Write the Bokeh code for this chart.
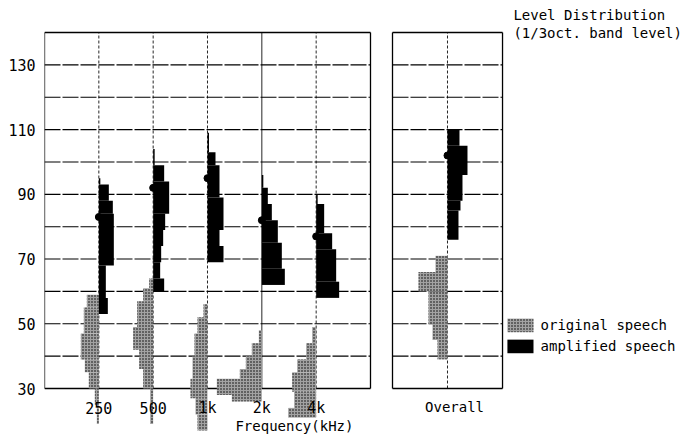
from bokeh.plotting import figure
from bokeh.models import Range1d, FixedTicker
from bokeh.core.properties import value
from bokeh.embed import file_html
from bokeh.resources import INLINE

# ---------------- data ----------------
band_labels = ["250", "500", "1k", "2k", "4k"]
band_pos = [0, 1, 2, 3, 4]
y_tick_values = [30, 50, 70, 90, 110, 130]
grid_levels = [40, 50, 60, 70, 80, 90, 100, 110, 120, 130]

# level classes: (low dB, high dB, relative occurrence)
amp_250 = [(93, 95, 1.5), (88, 93, 10), (84, 88, 14), (68, 84, 15), (58, 68, 7), (53, 58, 9)]
amp_500 = [(99, 104, 1.5), (94, 99, 11), (84, 94, 16), (79, 84, 12), (74, 79, 10),
           (69, 74, 8), (64, 69, 7), (60, 64, 11)]
amp_1k = [(103, 109, 1.5), (99, 103, 8), (89, 99, 12), (79, 89, 16), (74, 79, 12), (69, 74, 16)]
amp_2k = [(92, 96, 1.5), (87, 92, 6), (82, 87, 10), (75, 82, 16), (67, 75, 20), (62, 67, 23)]
amp_4k = [(87, 90, 1.5), (78, 87, 8), (73, 78, 16), (63, 73, 20), (58, 63, 23)]
amp_overall = [(105, 110, 12), (96, 105, 20), (88, 96, 15), (85, 88, 13), (76, 85, 11)]

orig_250 = [(55, 59, 12), (47, 55, 15), (39, 47, 18), (35, 39, 14), (30, 35, 10), (25, 30, 4), (19, 25, 2)]
orig_500 = [(61, 64, 4), (57, 61, 10), (49, 57, 16), (42, 49, 20), (36, 42, 14), (30, 36, 10),
            (24, 30, 3), (19, 24, 3)]
orig_1k = [(52, 56, 4), (47, 52, 10), (40, 47, 13), (33, 40, 15), (27, 33, 17), (22, 27, 12), (17, 22, 10)]
orig_2k = [(44, 48, 3), (40, 44, 10), (36, 40, 16), (33, 36, 22), (28, 33, 45), (26, 28, 30)]
orig_4k = [(44, 49, 4), (39, 44, 10), (35, 39, 19), (29, 35, 24), (24, 29, 22), (21, 24, 28)]
orig_overall = [(66, 71, 12), (60, 66, 29), (50, 60, 19), (45, 50, 15), (39, 45, 10)]

amp_mean = [83, 92, 95, 82, 77]
amp_mean_overall = 102

legend_labels = ["original speech", "amplified speech"]
title_lines = ["Level Distribution", "(1/3oct. band level)"]
x_title = "Frequency(kHz)"
overall_label = "Overall"

# ---------------- layout / style constants ----------------
PX = 54.333                 # pixels per x unit
OCC = 1.0 / PX              # x units per occurrence unit
MAIN_L, MAIN_R = -1.0, 5.0
OV_C = 6.417
OV_L, OV_R = 5.405, 7.43
Y_BOT, Y_TOP = 30, 140
FONT = value("DejaVu Sans Mono")
ORIG_FILL = "#a2a2a2"

p = figure(width=685, height=435,
           x_range=Range1d(-1.0, -1.0 + 641 / PX),
           y_range=Range1d(15.48, 149.89),
           output_backend="svg", toolbar_location=None,
           x_axis_location=None,
           min_border_left=44, min_border_right=0,
           min_border_top=0, min_border_bottom=0)
p.outline_line_color = None
p.grid.visible = False
p.background_fill_color = "white"
p.border_fill_color = "white"

ax = p.yaxis[0]
ax.ticker = FixedTicker(ticks=y_tick_values)
ax.axis_line_color = None
ax.major_tick_line_color = None
ax.minor_tick_line_color = None
ax.major_label_standoff = 3
ax.major_label_text_font = "DejaVu Sans Mono"
ax.major_label_text_font_size = "15px"
ax.major_label_text_color = "black"

# ---------------- grid & panel frames ----------------
for (l, r) in [(MAIN_L, MAIN_R), (OV_L, OV_R)]:
    p.segment(x0=[l] * len(grid_levels), x1=[r] * len(grid_levels),
              y0=grid_levels, y1=grid_levels,
              line_color="black", line_width=1.1, line_dash="16 2")
    p.segment(x0=[l, l, l, r], x1=[r, r, l, r], y0=[Y_BOT, Y_TOP, Y_BOT, Y_BOT],
              y1=[Y_BOT, Y_TOP, Y_TOP, Y_TOP], line_color="black", line_width=1.3)

for xp, lab in zip(band_pos, band_labels):
    dash = "solid" if lab == "2k" else "3 2"
    p.segment(x0=[xp], x1=[xp], y0=[Y_BOT], y1=[Y_TOP],
              line_color="black", line_width=1, line_dash=dash, line_alpha=0.85)
p.segment(x0=[OV_C], x1=[OV_C], y0=[Y_BOT], y1=[Y_TOP],
          line_color="black", line_width=1, line_dash="3 2", line_alpha=0.85)

# ---------------- distributions ----------------
def draw(dist, xc, side, **style):
    lo = [d[0] for d in dist]
    hi = [d[1] for d in dist]
    w = [d[2] * OCC for d in dist]
    if side > 0:
        left = [xc] * len(dist)
        right = [xc + v for v in w]
    else:
        left = [xc - v for v in w]
        right = [xc] * len(dist)
    p.quad(left=left, right=right, bottom=lo, top=hi, **style)

orig_style = dict(fill_color=ORIG_FILL, line_color=None, hatch_pattern="dot",
                  hatch_color="black", hatch_scale=3, hatch_weight=1.2)
amp_style = dict(fill_color="black", line_color=None)

orig_all = [orig_250, orig_500, orig_1k, orig_2k, orig_4k]
amp_all = [amp_250, amp_500, amp_1k, amp_2k, amp_4k]
for xp, od, ad in zip(band_pos, orig_all, amp_all):
    draw(od, xp, -1, **orig_style)
    draw(ad, xp, +1, **amp_style)
draw(orig_overall, OV_C, -1, **orig_style)
draw(amp_overall, OV_C, +1, **amp_style)

p.scatter(x=band_pos + [OV_C], y=amp_mean + [amp_mean_overall], size=7,
          fill_color="black", line_color="black")

# ---------------- texts ----------------
p.text(x=band_pos, y=[24.1] * len(band_pos), text=band_labels, text_font=FONT,
       text_font_size="15px", text_align="center", text_baseline="middle", text_color="black")
p.text(x=[3.6], y=[18.3], text=[x_title], text_font=FONT, text_font_size="14px",
       text_align="center", text_baseline="middle", text_color="black")
p.text(x=[OV_C + 0.13], y=[24.3], text=[overall_label], text_font=FONT, text_font_size="14px",
       text_align="center", text_baseline="middle", text_color="black")
p.text(x=[7.63, 7.63], y=[145.3, 140.0], text=title_lines, text_font=FONT,
       text_font_size="14px", text_align="left", text_baseline="middle", text_color="black")

# legend
leg_y = [49.5, 43.0]
p.quad(left=[7.52], right=[8.0], bottom=[leg_y[0] - 2.1], top=[leg_y[0] + 2.1], **orig_style)
p.quad(left=[7.52], right=[8.0], bottom=[leg_y[1] - 2.1], top=[leg_y[1] + 2.1], **amp_style)
p.text(x=[8.13, 8.13], y=leg_y, text=legend_labels, text_font=FONT, text_font_size="14px",
       text_align="left", text_baseline="middle", text_color="black")

open("out.html", "w").write(file_html(p, INLINE))
